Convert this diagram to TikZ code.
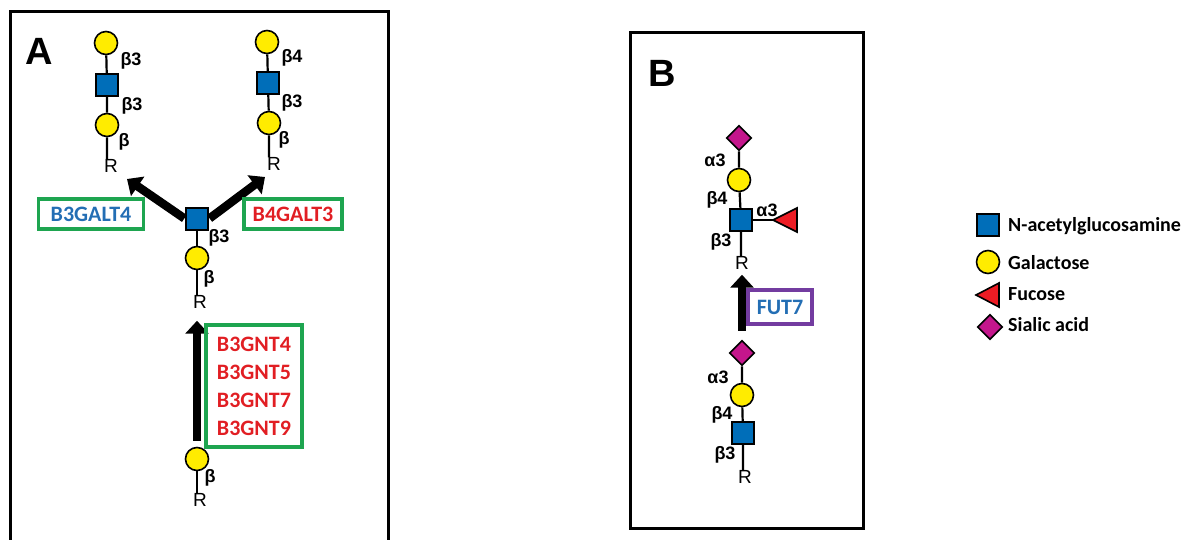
\documentclass[tikz,border=0pt]{standalone}
\usepackage{fontspec}
\setmainfont{Carlito}
\newfontfamily\rfont{Liberation Sans}
\usetikzlibrary{shapes.geometric,arrows.meta}

\definecolor{glcblue}{RGB}{0,110,185}
\definecolor{galyellow}{RGB}{255,236,0}
\definecolor{fucred}{RGB}{237,28,36}
\definecolor{siamag}{RGB}{196,22,140}
\definecolor{boxgreen}{RGB}{30,165,80}
\definecolor{boxpurple}{RGB}{115,60,160}
\definecolor{txtblue}{RGB}{35,110,180}
\definecolor{txtred}{RGB}{225,30,35}

\tikzset{
  glc/.style={draw, fill=glcblue, minimum size=22pt, inner sep=0pt, line width=1.6pt},
  gal/.style={circle, draw, fill=galyellow, minimum size=23pt, inner sep=0pt, line width=1.6pt},
  sia/.style={diamond, draw, fill=siamag, minimum size=25pt, inner sep=0pt, line width=1.6pt},
  fuc/.style={draw, fill=fucred, line width=1.6pt, line join=miter},
  bond/.style={line width=2.2pt},
  lnk/.style={font=\rfont\bfseries\fontsize{18}{18}\selectfont, inner sep=0pt},
  aglycon/.style={font=\rfont\fontsize{19}{19}\selectfont, inner sep=0pt},
  enz/.style={draw=boxgreen, line width=3.5pt, font=\bfseries\fontsize{22}{28}\selectfont, inner sep=0pt, align=center},
  bigarrow/.style={line width=8.5pt, -{Triangle[length=13pt,width=23pt]}},
  panel/.style={draw, line width=3pt},
  legend/.style={font=\bfseries\fontsize{20}{20}\selectfont, anchor=west, inner sep=0pt}
}

\begin{document}
\begin{tikzpicture}[x=1pt,y=-1pt]
\useasboundingbox (0,0) rectangle (1190,540);

% panel A
\draw[panel] (10,12) rectangle (388,560);
\node[font=\rfont\bfseries\fontsize{38}{38}\selectfont, inner sep=0pt] (pA) at (39,51) {A};

% left product
\node[gal] (lgal1) at (106,43) {};
\node[glc] (lglc) at (107,85) {};
\node[gal] (lgal2) at (107,125) {};
\node[aglycon] (lR) at (111,166) {R};
\draw[bond] (lgal1) -- (lglc) -- (lgal2) -- (lgal2 |- lR.north);
\node[lnk] (lb1) at (131,61) {β3};
\node[lnk] (lb2) at (132,106) {β3};
\node[lnk] (lb3) at (124,142) {β};

% right product
\node[gal] (rgal1) at (267,42) {};
\node[glc] (rglc) at (268,83) {};
\node[gal] (rgal2) at (269,123) {};
\node[aglycon] (rR) at (274,164) {R};
\draw[bond] (rgal1) -- (rglc) -- (rgal2) -- (rgal2 |- rR.north);
\node[lnk] (rb1) at (292,58) {β4};
\node[lnk] (rb2) at (292,103) {β3};
\node[lnk] (rb3) at (284,140) {β};

% middle
\node[glc] (mglc) at (197,219) {};
\node[gal] (mgal) at (197,258) {};
\node[aglycon] (mR) at (200,302) {R};
\draw[bond] (mglc) -- (mgal) -- (mgal |- mR.north);
\node[lnk] (mb1) at (219,238) {β3};
\node[lnk] (mb2) at (209,279) {β};

% bottom
\node[gal] (bgal) at (197,459) {};
\node[aglycon] (bR) at (200,500) {R};
\draw[bond] (bgal) -- (bgal |- bR.north);
\node[lnk] (bb1) at (210,478) {β};

\coordinate (ltip) at (127,179);
\coordinate (rtip) at (265,177);
\draw[bigarrow, shorten <=1pt] (mglc.west) -- (ltip);
\draw[bigarrow, shorten <=1pt] (mglc.east) -- (rtip);
\draw[bigarrow, shorten <=6pt, shorten >=12pt] (bgal.north) -- (bgal.north |- mR.south);

\node[enz, minimum width=105pt, minimum height=30pt, text=txtblue] (galt4) at (91,214) {B3GALT4};
\node[enz, minimum width=98pt, minimum height=30pt, text=txtred] (galt3) at (293,214) {B4GALT3};
\node[enz, minimum width=96pt, minimum height=122pt, text=txtred] (gnt) at (254,386) {B3GNT4\\B3GNT5\\B3GNT7\\B3GNT9};

% panel B
\draw[panel] (630,33) rectangle (863,528);
\node[font=\rfont\bfseries\fontsize{38}{38}\selectfont, inner sep=0pt] (pB) at (662,73) {B};

\node[sia] (tsia) at (739,138) {};
\node[gal] (tgal) at (739,180) {};
\node[glc] (tglc) at (741,220) {};
\node[aglycon] (tR) at (742,263) {R};
\coordinate (tfuc) at (773,220);
\draw[bond] (tsia) -- (tgal) -- (tglc) -- (tglc |- tR.north);
\draw[bond] (tglc) -- (tfuc);
\draw[fuc] (tfuc) -- ++(24,-12) -- ++(0,24) -- cycle;
\node[lnk] (ta1) at (715,160) {α3};
\node[lnk] (tb1) at (717,200) {β4};
\node[lnk] (ta2) at (767,210) {α3};
\node[lnk] (tb2) at (721,242) {β3};

\node[sia] (bsia) at (742,353) {};
\node[gal] (bgal2) at (742,395) {};
\node[glc] (bglc) at (743,433) {};
\node[aglycon] (bR2) at (745,477) {R};
\draw[bond] (bsia) -- (bgal2) -- (bglc) -- (bglc |- bR2.north);
\node[lnk] (ba1) at (718,377) {α3};
\node[lnk] (bb2) at (722,415) {β4};
\node[lnk] (bb3) at (725,455) {β3};

\draw[bigarrow, shorten <=9pt, shorten >=5pt] (bsia.north) -- (bsia.north |- tR.south);
\node[enz, draw=boxpurple, minimum width=64pt, minimum height=34pt, text=txtblue] (fut7) at (780,307) {FUT7};

% legend
\node[glc] (kglc) at (988,225) {};
\node[gal] (kgal) at (988,262) {};
\coordinate (kfuc) at (976,295);
\draw[fuc] (kfuc) -- ++(23,-12) -- ++(0,24) -- cycle;
\node[sia] (ksia) at (990,327) {};
\node[legend] (tglcn) at (1008,226) {N-acetylglucosamine};
\node[legend] (tgaln) at (1008,263) {Galactose};
\node[legend] (tfucn) at (1008,294) {Fucose};
\node[legend] (tsian) at (1008,325) {Sialic acid};
\end{tikzpicture}
\end{document}
